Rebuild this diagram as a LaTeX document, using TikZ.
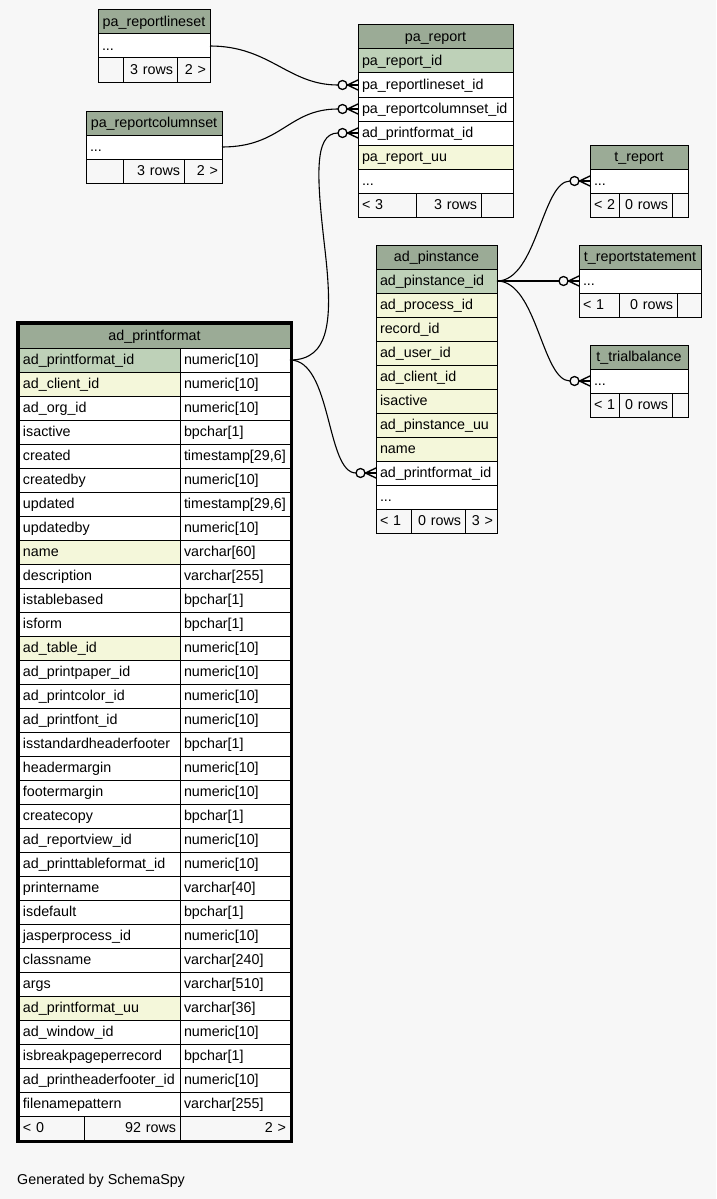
\documentclass[tikz,border=0pt]{standalone}
\usepackage{fontspec}
\setmainfont{Liberation Sans}
\definecolor{bgc}{HTML}{F7F7F7}
\definecolor{hdc}{HTML}{9BAB96}
\definecolor{cpk}{HTML}{BED1B8}
\definecolor{cidx}{HTML}{F4F7DA}
\definecolor{cno}{HTML}{FFFFFF}
\newcommand\tabfont{\fontsize{14.3}{16}\selectfont}
\tikzset{
  cellbox/.style={draw=black, line width=1pt, anchor=north west, minimum height=24pt,
    inner xsep=4pt, inner ysep=0pt, outer sep=0pt, text height=11pt, text depth=2pt, font=\tabfont},
  edge/.style={draw=black, line width=1.1pt},
  crowline/.style={draw=black, line width=1.4pt},
  thickframe/.style={draw=black, line width=3pt}
}
% name, x, y, width, fill, align, text
\newcommand\tcell[7]{%
  \pgfmathsetmacro\tcw{#4-8}%
  \node[cellbox, fill=#5, text width=\tcw pt, align=#6] (#1) at (#2,#3) {\mbox{#7}};}
\newcommand\crowfoot[1]{%
  \draw[edge, line width=1.3pt, fill=bgc] ([xshift=-15.5pt]#1.west) circle (4.5pt);
  \draw[edge] ([xshift=-11pt]#1.west) -- (#1.west);
  \draw[crowline] ([xshift=-10.5pt]#1.west) -- ([yshift=5pt]#1.west);
  \draw[crowline] ([xshift=-10.5pt]#1.west) -- ([yshift=-5pt]#1.west);
}
\begin{document}
\begin{tikzpicture}[x=1pt, y=-1pt]
\fill[bgc] (0,0) rectangle (716,1199);
\useasboundingbox (0,0) rectangle (716,1199);

% pa_reportlineset
\tcell{pls-h}{98}{10}{112}{hdc}{center}{pa\_reportlineset}
\tcell{pls-dots}{98}{34}{112}{cno}{left}{...}
\tcell{pls-f1}{98}{58}{25}{bgc}{left}{}
\tcell{pls-f2}{123}{58}{54}{bgc}{right}{3 rows}
\tcell{pls-f3}{177}{58}{33}{bgc}{right}{2 >}

% pa_reportcolumnset
\tcell{pcs-h}{86}{111}{136}{hdc}{center}{pa\_reportcolumnset}
\tcell{pcs-dots}{86}{135}{136}{cno}{left}{...}
\tcell{pcs-f1}{86}{159}{37}{bgc}{left}{}
\tcell{pcs-f2}{123}{159}{61}{bgc}{right}{3 rows}
\tcell{pcs-f3}{184}{159}{38}{bgc}{right}{2 >}

% pa_report
\tcell{pr-h}{358}{25}{155}{hdc}{center}{pa\_report}
\tcell{pr-id}{358}{49}{155}{cpk}{left}{pa\_report\_id}
\tcell{pr-lineset}{358}{73}{155}{cno}{left}{pa\_reportlineset\_id}
\tcell{pr-columnset}{358}{97}{155}{cno}{left}{pa\_reportcolumnset\_id}
\tcell{pr-printformat}{358}{121}{155}{cno}{left}{ad\_printformat\_id}
\tcell{pr-uu}{358}{145}{155}{cidx}{left}{pa\_report\_uu}
\tcell{pr-dots}{358}{169}{155}{cno}{left}{...}
\tcell{pr-f1}{358}{193}{58}{bgc}{left}{< 3}
\tcell{pr-f2}{416}{193}{65}{bgc}{right}{3 rows}
\tcell{pr-f3}{481}{193}{32}{bgc}{right}{}

% ad_pinstance
\tcell{pi-h}{376}{245}{121}{hdc}{center}{ad\_pinstance}
\tcell{pi-id}{376}{269}{121}{cpk}{left}{ad\_pinstance\_id}
\tcell{pi-process}{376}{293}{121}{cidx}{left}{ad\_process\_id}
\tcell{pi-record}{376}{317}{121}{cidx}{left}{record\_id}
\tcell{pi-user}{376}{341}{121}{cidx}{left}{ad\_user\_id}
\tcell{pi-client}{376}{365}{121}{cidx}{left}{ad\_client\_id}
\tcell{pi-active}{376}{389}{121}{cidx}{left}{isactive}
\tcell{pi-uu}{376}{413}{121}{cidx}{left}{ad\_pinstance\_uu}
\tcell{pi-name}{376}{437}{121}{cidx}{left}{name}
\tcell{pi-printformat}{376}{461}{121}{cno}{left}{ad\_printformat\_id}
\tcell{pi-dots}{376}{485}{121}{cno}{left}{...}
\tcell{pi-f1}{376}{509}{35}{bgc}{left}{< 1}
\tcell{pi-f2}{411}{509}{54}{bgc}{right}{0 rows}
\tcell{pi-f3}{465}{509}{32}{bgc}{right}{3 >}

% t_report
\tcell{tr-h}{590}{145}{98}{hdc}{center}{t\_report}
\tcell{tr-dots}{590}{169}{98}{cno}{left}{...}
\tcell{tr-f1}{590}{193}{29}{bgc}{left}{< 2}
\tcell{tr-f2}{619}{193}{53}{bgc}{right}{0 rows}
\tcell{tr-f3}{672}{193}{16}{bgc}{right}{}

% t_reportstatement
\tcell{trs-h}{579}{245}{122}{hdc}{center}{t\_reportstatement}
\tcell{trs-dots}{579}{269}{122}{cno}{left}{...}
\tcell{trs-f1}{579}{293}{40}{bgc}{left}{< 1}
\tcell{trs-f2}{619}{293}{58}{bgc}{right}{0 rows}
\tcell{trs-f3}{677}{293}{24}{bgc}{right}{}

% t_trialbalance
\tcell{ttb-h}{590}{345}{98}{hdc}{center}{t\_trialbalance}
\tcell{ttb-dots}{590}{369}{98}{cno}{left}{...}
\tcell{ttb-f1}{590}{393}{29}{bgc}{left}{< 1}
\tcell{ttb-f2}{619}{393}{53}{bgc}{right}{0 rows}
\tcell{ttb-f3}{672}{393}{16}{bgc}{right}{}

% ad_printformat
\tcell{pf-h}{19}{324}{271}{hdc}{center}{ad\_printformat}
\foreach \n/\t/\c [count=\i from 0] in {
  ad\_printformat\_id/numeric[10]/cpk,
  ad\_client\_id/numeric[10]/cidx,
  ad\_org\_id/numeric[10]/cno,
  isactive/bpchar[1]/cno,
  created/{timestamp[29,6]}/cno,
  createdby/numeric[10]/cno,
  updated/{timestamp[29,6]}/cno,
  updatedby/numeric[10]/cno,
  name/varchar[60]/cidx,
  description/varchar[255]/cno,
  istablebased/bpchar[1]/cno,
  isform/bpchar[1]/cno,
  ad\_table\_id/numeric[10]/cidx,
  ad\_printpaper\_id/numeric[10]/cno,
  ad\_printcolor\_id/numeric[10]/cno,
  ad\_printfont\_id/numeric[10]/cno,
  isstandardheaderfooter/bpchar[1]/cno,
  headermargin/numeric[10]/cno,
  footermargin/numeric[10]/cno,
  createcopy/bpchar[1]/cno,
  ad\_reportview\_id/numeric[10]/cno,
  ad\_printtableformat\_id/numeric[10]/cno,
  printername/varchar[40]/cno,
  isdefault/bpchar[1]/cno,
  jasperprocess\_id/numeric[10]/cno,
  classname/varchar[240]/cno,
  args/varchar[510]/cno,
  ad\_printformat\_uu/varchar[36]/cidx,
  ad\_window\_id/numeric[10]/cno,
  isbreakpageperrecord/bpchar[1]/cno,
  ad\_printheaderfooter\_id/numeric[10]/cno,
  filenamepattern/varchar[255]/cno}{
  \pgfmathsetmacro\ry{348+24*\i}
  \tcell{pf-n\i}{19}{\ry}{161}{\c}{left}{\n}
  \tcell{pf-t\i}{180}{\ry}{110}{cno}{left}{\t}
}
\tcell{pf-f1}{19}{1116}{65}{bgc}{left}{< 0}
\tcell{pf-f2}{84}{1116}{96}{bgc}{right}{92 rows}
\tcell{pf-f3}{180}{1116}{110}{bgc}{right}{2 >}
\draw[thickframe] (pf-h.north west) ++(-1.5,-1.5) rectangle ([xshift=1.5pt,yshift=-1.5pt]pf-f3.south east);

% connectors
\coordinate (e3mid) at (325,250);
\draw[edge] (pls-dots.east) .. controls +(60,0) and +(-50,0) .. ([xshift=-20pt]pr-lineset.west);
\draw[edge] (pcs-dots.east) .. controls +(60,0) and +(-50,0) .. ([xshift=-20pt]pr-columnset.west);
\draw[edge] (pf-t0.east) .. controls +(40,0) and +(8,70) .. (e3mid)
            .. controls +(-8,-70) and +(-25,0) .. ([xshift=-20pt]pr-printformat.west);
\draw[edge] (pf-t0.east) .. controls +(42,0) and +(-30,0) .. ([xshift=-20pt]pi-printformat.west);
\draw[edge] (pi-id.east) .. controls +(40,0) and +(-28,0) .. ([xshift=-20pt]tr-dots.west);
\draw[edge] (pi-id.east) -- ([xshift=-20pt]trs-dots.west);
\draw[edge] (pi-id.east) .. controls +(40,0) and +(-28,0) .. ([xshift=-20pt]ttb-dots.west);
\crowfoot{pr-lineset}
\crowfoot{pr-columnset}
\crowfoot{pr-printformat}
\crowfoot{pi-printformat}
\crowfoot{tr-dots}
\crowfoot{trs-dots}
\crowfoot{ttb-dots}

\node[anchor=base west, inner sep=0pt, font=\tabfont] (gen) at (17,1184) {Generated by SchemaSpy};
\end{tikzpicture}
\end{document}
